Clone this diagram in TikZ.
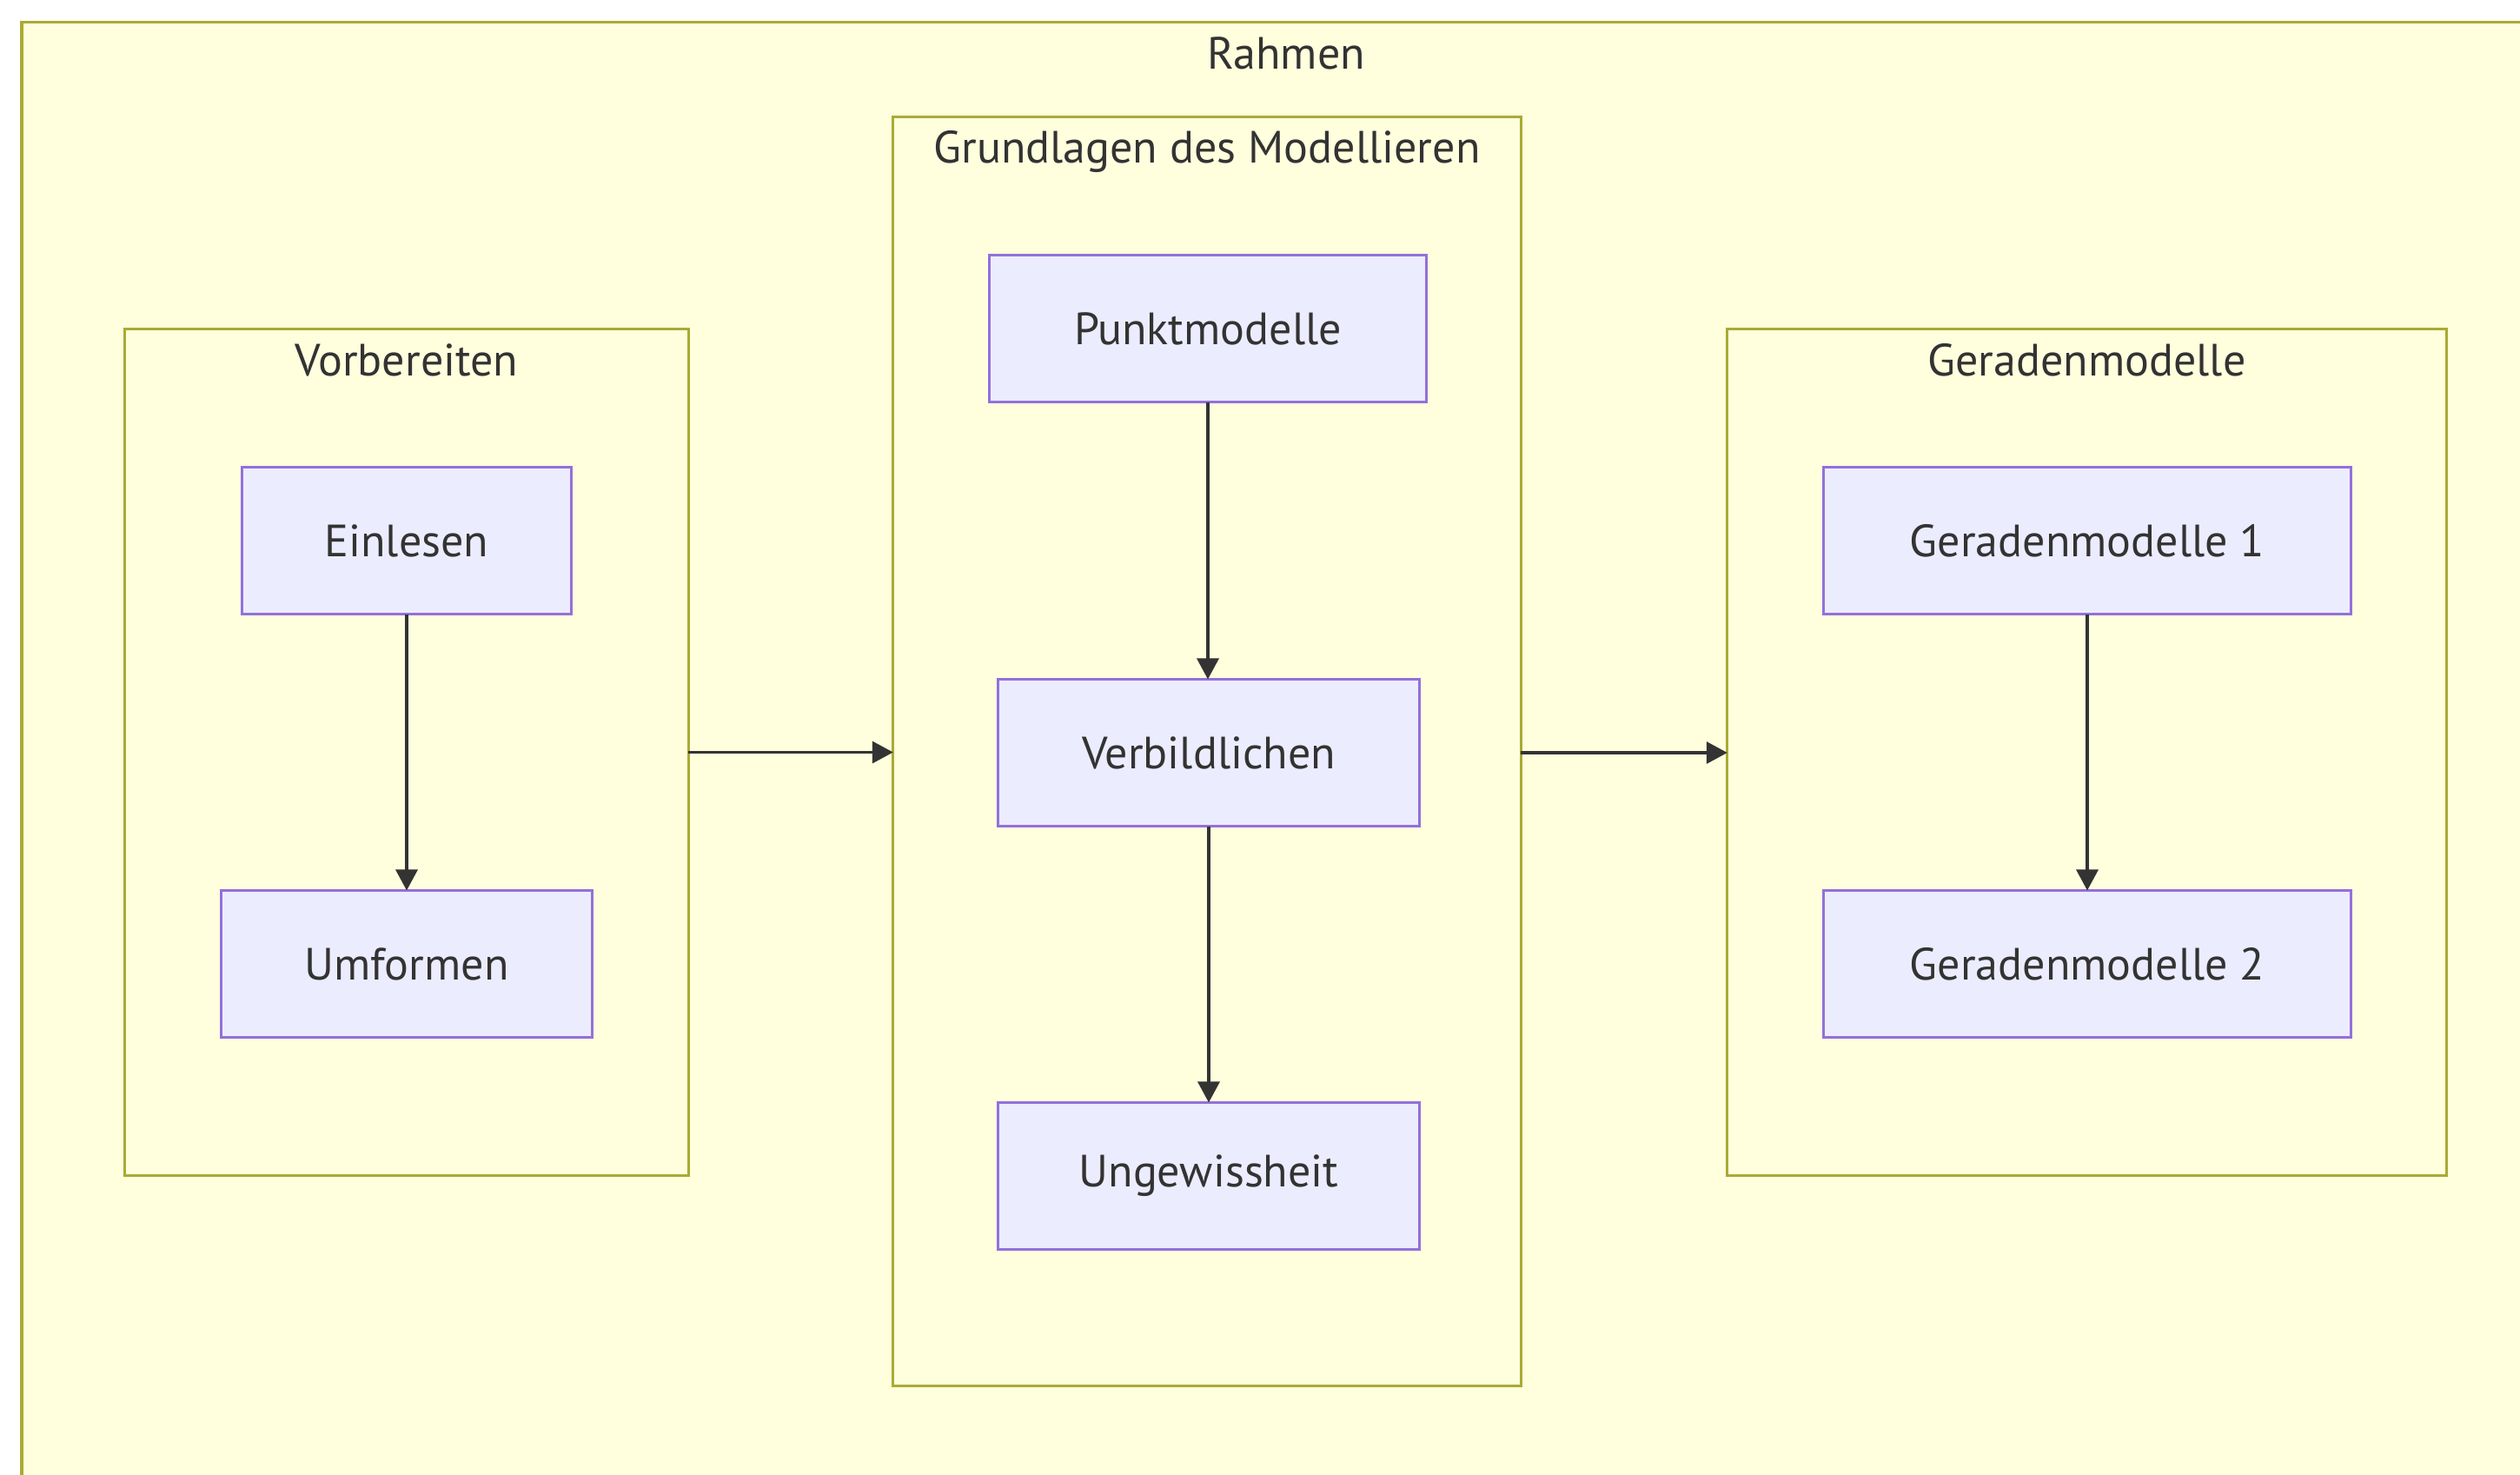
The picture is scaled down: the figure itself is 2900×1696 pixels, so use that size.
\documentclass[tikz,border=0pt]{standalone}
\usepackage{fontspec}
\setmainfont{PT Sans}
\usetikzlibrary{arrows.meta}
\definecolor{clusterfill}{HTML}{FFFFDE}
\definecolor{clusterline}{HTML}{AAAA33}
\definecolor{nodefill}{HTML}{ECECFF}
\definecolor{nodeline}{HTML}{9370DB}
\definecolor{textc}{HTML}{333333}
\begin{document}
\begin{tikzpicture}[x=0.01cm,y=-0.01cm,
  cluster/.style={draw=clusterline, fill=clusterfill, line width=0.03cm, inner sep=0pt, outer sep=0pt},
  box/.style={draw=nodeline, fill=nodefill, line width=0.03cm, minimum height=1.69cm, inner sep=0pt, outer sep=0pt, text=textc, font=\fontsize{14.8}{17}\selectfont},
  ctitle/.style={text=textc, inner sep=0pt, font=\fontsize{14.8}{17}\selectfont},
  arr/.style={draw=textc, line width=0.033cm, -{Triangle[length=0.24cm,width=0.25cm]}}]
\useasboundingbox (0,0) rectangle (2900,1696);
\clip (0,0) rectangle (2900,1696);
\fill[white] (0,0) rectangle (2900,1696);
% outer frame
\draw[cluster] (25,25) rectangle (2960,1760);
\node[ctitle] (rahmenT) at (1480,61) {Rahmen};
% clusters
\node[cluster, minimum width=6.48cm, minimum height=9.73cm] (vorb) at (468,865.5) {};
\node[cluster, minimum width=7.22cm, minimum height=14.59cm] (grund) at (1389,864.5) {};
\node[cluster, minimum width=8.27cm, minimum height=9.73cm] (gerad) at (2401.5,865.5) {};
\node[ctitle] (vorbT) at (468,414) {Vorbereiten};
\node[ctitle] (grundT) at (1389,174) {Grundlagen des Modellieren};
\node[ctitle] (geradT) at (2401.5,414) {Geradenmodelle};
% nodes
\node[box, minimum width=3.78cm] (ein) at (468,622) {Einlesen};
\node[box, minimum width=4.26cm] (umf) at (468,1109) {Umformen};
\node[box, minimum width=5.02cm] (punkt) at (1390,378) {Punktmodelle};
\node[box, minimum width=4.84cm] (verb) at (1391,866) {Verbildlichen};
\node[box, minimum width=4.84cm] (ungew) at (1391,1353) {Ungewissheit};
\node[box, minimum width=6.07cm] (gm1) at (2402,622) {Geradenmodelle 1};
\node[box, minimum width=6.07cm] (gm2) at (2402,1109) {Geradenmodelle 2};
% connectors
\draw[arr] (ein) -- (umf);
\draw[arr] (punkt) -- (punkt |- verb.north);
\draw[arr] (verb) -- (verb |- ungew.north);
\draw[arr] (gm1) -- (gm2);
\draw[arr] (vorb.east) -- (vorb.east -| grund.west);
\draw[arr] (grund.east |- verb) -- (gerad.west |- verb);
\end{tikzpicture}
\end{document}
